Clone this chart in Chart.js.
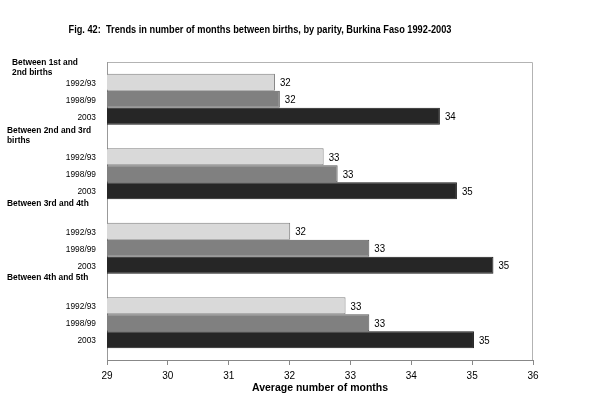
<!DOCTYPE html>
<html>
<head>
<meta charset="utf-8">
<script src="https://cdn.jsdelivr.net/npm/chart.js@4.4.1/dist/chart.umd.min.js"></script>
<style>
  html, body { margin: 0; padding: 0; background: #fff; }
</style>
</head>
<body>
<canvas id="grafico" width="600" height="408"></canvas>
<script>
// Dados
var grupos = [['Between 1st and', '2nd births'], ['Between 2nd and 3rd', 'births'], ['Between 3rd and 4th'], ['Between 4th and 5th']];
var anos = ['1992/93', '1998/99', '2003'];
var v1992 = [31.76, 32.56, 32.01, 32.92];
var v1998 = [31.84, 32.79, 33.31, 33.31];
var v2003 = [34.47, 34.75, 35.35, 35.03];
var eixoMin = 29, eixoMax = 36;

var titulo = 'Fig. 42:  Trends in number of months between births, by parity, Burkina Faso 1992-2003';
var tituloEixo = 'Average number of months';

Chart.defaults.font.family = "'Liberation Sans', Arial, sans-serif";
Chart.defaults.color = '#000';

// texto comprimido na horizontal (a imagem original é estreita)
function texto(ctx, s, x, y, fonte, alinhar, sx) {
    ctx.save();
    ctx.font = fonte;
    ctx.fillStyle = '#000';
    ctx.textAlign = alinhar;
    ctx.textBaseline = 'middle';
    ctx.translate(x, y);
    ctx.scale(sx, 1);
    ctx.fillText(s, 0, 0);
    ctx.restore();
}

var fam = "'Liberation Sans', Arial, sans-serif";

var rotulos = {
    id: 'rotulos',
    beforeDatasetsDraw: function (chart) {
        var ctx = chart.ctx, a = chart.chartArea;
        ctx.save();
        ctx.lineWidth = 1;
        ctx.strokeStyle = '#b3b3b3';
        ctx.beginPath();
        ctx.moveTo(a.left, a.top + 0.5);
        ctx.lineTo(a.right - 0.5, a.top + 0.5);
        ctx.lineTo(a.right - 0.5, a.bottom);
        ctx.stroke();
        ctx.strokeStyle = '#999';
        ctx.beginPath();
        ctx.moveTo(a.left + 0.5, a.top);
        ctx.lineTo(a.left + 0.5, a.bottom);
        ctx.stroke();
        ctx.restore();
    },
    afterDatasetsDraw: function (chart) {
        var ctx = chart.ctx;
        var sx = 0.88;
        // título
        ctx.save();
        ctx.font = 'bold 11px ' + fam;
        var w = ctx.measureText(titulo).width;
        ctx.restore();
        texto(ctx, titulo, 260, 30, 'bold 11px ' + fam, 'center', 383 / w);

        chart.data.datasets.forEach(function (ds, i) {
            var meta = chart.getDatasetMeta(i);
            meta.data.forEach(function (bar, j) {
                var p = bar.getProps(['x', 'y'], true);
                texto(ctx, String(Math.round(ds.data[j])), p.x + 5, p.y + 1, '11px ' + fam, 'left', sx);
                texto(ctx, anos[i], 96, p.y + 1, '9.5px ' + fam, 'right', sx);
            });
        });

        // cabeçalhos dos grupos
        var desloc = [{ x: 12, dy: -1 }, { x: 7, dy: -8 }, { x: 7, dy: -19.5 }, { x: 7, dy: -20 }];
        var meta0 = chart.getDatasetMeta(0);
        grupos.forEach(function (linhas, j) {
            var p = meta0.data[j].getProps(['y', 'height'], true);
            var topo = p.y - p.height / 2;
            var yFim = topo + desloc[j].dy;
            linhas.forEach(function (l, k) {
                var yy = yFim - (linhas.length - 1 - k) * 10;
                texto(ctx, l, desloc[j].x, yy, 'bold 9.5px ' + fam, 'left', sx);
            });
        });
    }
};

var grafico = new Chart(document.getElementById('grafico').getContext('2d'), {
    type: 'bar',
    data: {
        labels: grupos,
        datasets: [{
            label: anos[0],
            data: v1992,
            backgroundColor: '#d9d9d9',
            borderColor: '#7f7f7f',
            borderWidth: 1,
            borderSkipped: false
        }, {
            label: anos[1],
            data: v1998,
            backgroundColor: '#808080',
            borderColor: '#595959',
            borderWidth: 1,
            borderSkipped: false
        }, {
            label: anos[2],
            data: v2003,
            backgroundColor: '#262626',
            borderColor: '#1a1a1a',
            borderWidth: 1,
            borderSkipped: false
        }]
    },
    options: {
        indexAxis: 'y',
        responsive: false,
        animation: false,
        categoryPercentage: 0.685,
        barPercentage: 1,
        layout: {
            padding: { top: 62, right: 67, left: 0, bottom: 0 }
        },
        scales: {
            x: {
                type: 'linear',
                min: eixoMin,
                max: eixoMax,
                ticks: {
                    stepSize: 1,
                    color: '#000',
                    padding: 5,
                    font: { size: 10 }
                },
                grid: {
                    display: true,
                    drawOnChartArea: false,
                    drawTicks: true,
                    tickLength: 5,
                    color: '#888'
                },
                border: { display: true, color: '#888' },
                title: {
                    display: true,
                    text: tituloEixo,
                    color: '#000',
                    font: { size: 10.5, weight: 'bold' },
                    padding: { top: 4, bottom: 14 }
                },
                afterFit: function (s) { s.height = 48; }
            },
            y: {
                ticks: { display: false },
                grid: { display: false },
                border: { display: false },
                afterFit: function (s) { s.width = 107; }
            }
        },
        plugins: {
            legend: { display: false },
            tooltip: { enabled: false }
        }
    },
    plugins: [rotulos]
});
</script>
</body>
</html>
